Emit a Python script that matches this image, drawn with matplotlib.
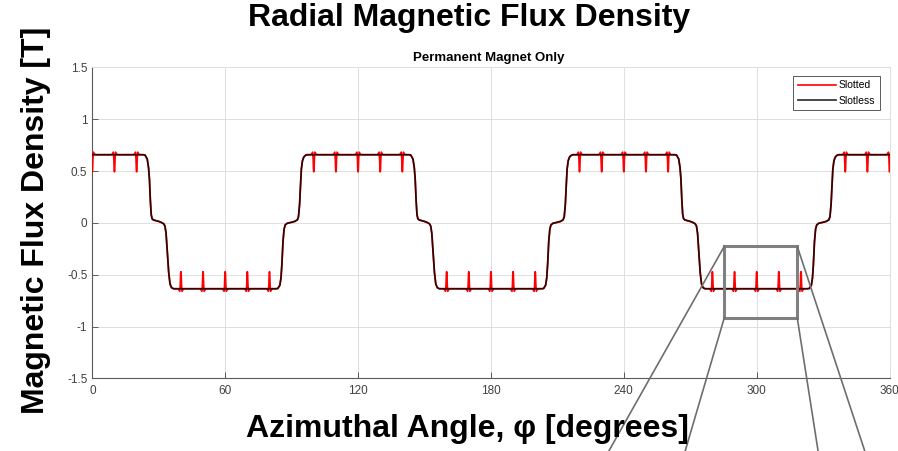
import numpy as np
import matplotlib
matplotlib.use("Agg")
import matplotlib.pyplot as plt
from matplotlib.patches import Rectangle, ConnectionPatch

plt.rcParams['font.family'] = ['Liberation Sans', 'DejaVu Sans']

# ---------------- data ----------------
# centres of the pole transitions (deg) and their direction
edge_centers = [30, 90, 150, 210, 270, 330]
edge_kind = ['fall', 'rise', 'fall', 'rise', 'fall', 'rise']

# falling edge profile (offset from centre [deg], B [T])
fall_offsets = [-7.0, -6.2, -5.2, -4.6, -4.2, -3.8, -3.4, -3.0, -2.4, -1.0, 0.0,
                1.0, 2.2, 2.8, 3.3, 3.9, 4.5, 5.1, 5.8, 6.6, 7.0]
fall_values = [0.657, 0.654, 0.615, 0.53, 0.42, 0.22, 0.08, 0.04, 0.028, 0.02, 0.014,
               0.006, -0.008, -0.03, -0.10, -0.29, -0.48, -0.59, -0.625, -0.634, -0.635]
# rising edge profile
rise_offsets = [-7.0, -6.2, -5.3, -4.8, -4.4, -3.9, -3.4, -2.9, -2.0, 0.0, 1.5,
                2.6, 3.1, 3.6, 4.0, 4.4, 4.9, 5.5, 6.3, 7.0]
rise_values = [-0.635, -0.632, -0.60, -0.53, -0.40, -0.18, -0.06, -0.02, -0.004, 0.006, 0.015,
               0.03, 0.06, 0.18, 0.36, 0.52, 0.60, 0.635, 0.652, 0.657]
plateau_start = 0.657
plateau_end = 0.657

# stator slot positions (deg) where the slotted curve shows a dip
slot_angles = [0, 10, 20, 40, 50, 60, 70, 80, 100, 110, 120, 130, 140,
               160, 170, 180, 190, 200, 220, 230, 240, 250, 260,
               280, 290, 300, 310, 320, 340, 350, 360]
# slot dip shape (offset [deg], change of |B| [T])
slot_offsets = [-1.2, -0.8, -0.5, -0.28, -0.12, 0.0, 0.12, 0.28, 0.5, 0.8, 1.2]
slot_deltas = [0.0, 0.015, 0.025, -0.04, -0.15, -0.165, -0.15, -0.04, 0.025, 0.015, 0.0]

# zoom box (deg, T)
zoom_x = [285.4, 318.3]
zoom_y = [-0.913, -0.225]

x_ticks = [0, 60, 120, 180, 240, 300, 360]
y_ticks = [-1.5, -1, -0.5, 0, 0.5, 1, 1.5]

# ---------------- build series ----------------
sl_x = [0.0]
sl_y = [plateau_start]
for c, k in zip(edge_centers, edge_kind):
    offs, vals = (fall_offsets, fall_values) if k == 'fall' else (rise_offsets, rise_values)
    sl_x += [c + o for o in offs]
    sl_y += list(vals)
sl_x.append(360.0)
sl_y.append(plateau_end)
sl_x = np.array(sl_x)
sl_y = np.array(sl_y)

pts = [sl_x]
for s in slot_angles:
    pts.append(np.array([s + o for o in slot_offsets]))
st_x = np.unique(np.concatenate(pts))
st_y = np.interp(st_x, sl_x, sl_y)
for s in slot_angles:
    sign = np.sign(np.interp(s, sl_x, sl_y))
    st_y = st_y + sign * np.interp(st_x, [s + o for o in slot_offsets], slot_deltas,
                                   left=0.0, right=0.0)

# ---------------- figure ----------------
fig = plt.figure(figsize=(8.98, 4.51), dpi=100)
ax = fig.add_axes([0.1028, 0.1608, 0.8878, 0.690])

ax.plot(st_x, st_y, color='#ff0000', lw=1.2, label='Slotted', zorder=3)
ax.plot(sl_x, sl_y, color='black', lw=1.3, alpha=0.78, label='Slotless', zorder=4)

ax.set_xlim(0, 360)
ax.set_ylim(-1.5, 1.5)
ax.set_xticks(x_ticks)
ax.set_xticklabels([str(v) for v in x_ticks])
ax.set_yticks(y_ticks)
ax.set_yticklabels(['-1.5', '-1', '-0.5', '0', '0.5', '1', '1.5'])
ax.grid(True, color='#dedede', lw=0.7)
ax.set_axisbelow(True)
for sp in ['top', 'right']:
    ax.spines[sp].set_color('#dedede')
    ax.spines[sp].set_linewidth(0.7)
for sp in ['left', 'bottom']:
    ax.spines[sp].set_color('#5a5a5a')
    ax.spines[sp].set_linewidth(0.8)
ax.tick_params(direction='in', length=4, width=0.7, color='#5a5a5a',
               labelcolor='#404040', labelsize=8.5, top=False, right=False)
ax.tick_params(axis='x', pad=5)
ax.tick_params(axis='y', pad=3.5)

leg = ax.legend(loc='upper right', bbox_to_anchor=(0.988, 0.973), borderaxespad=0,
                fontsize=7.5, handlelength=3.6, handletextpad=0.3, labelspacing=0.5,
                borderpad=0.45, fancybox=False, framealpha=1, edgecolor='#404040')
leg.get_frame().set_linewidth(0.6)

ax.add_patch(Rectangle((zoom_x[0], zoom_y[0]), zoom_x[1] - zoom_x[0], zoom_y[1] - zoom_y[0],
                       fill=False, edgecolor='#808080', lw=2.2, zorder=6))

# connector lines leaving the figure towards an (off-figure) inset
ends = [(0.678, 0.0), (0.763, 0.0), (0.911, 0.0), (0.963, 0.0)]
corners = [(zoom_x[0], zoom_y[1]), (zoom_x[0], zoom_y[0]),
           (zoom_x[1], zoom_y[0]), (zoom_x[1], zoom_y[1])]
for (cx, cy), (ex, ey) in zip(corners, ends):
    cp = ConnectionPatch(xyA=(cx, cy), coordsA=ax.transData, xyB=(ex, ey),
                         coordsB=fig.transFigure, color='#6e6e6e', lw=1.2, zorder=2)
    fig.add_artist(cp)

fig.text(0.5222, 0.9424, 'Radial Magnetic Flux Density', fontsize=23, fontweight='bold',
         ha='center', va='baseline', zorder=5)
fig.text(0.5445, 0.8654, 'Permanent Magnet Only', fontsize=9.5, fontweight='bold',
         ha='center', va='baseline', zorder=5)
fig.text(0.5206, 0.031, 'Azimuthal Angle, \u03c6 [degrees]', fontsize=23, fontweight='bold',
         ha='center', va='baseline', zorder=5)
fig.text(0.040, 0.512, 'Magnetic Flux Density [T]', fontsize=23, fontweight='bold',
         ha='center', va='center', rotation=90, zorder=5)

fig.savefig('out.png', dpi=100)
